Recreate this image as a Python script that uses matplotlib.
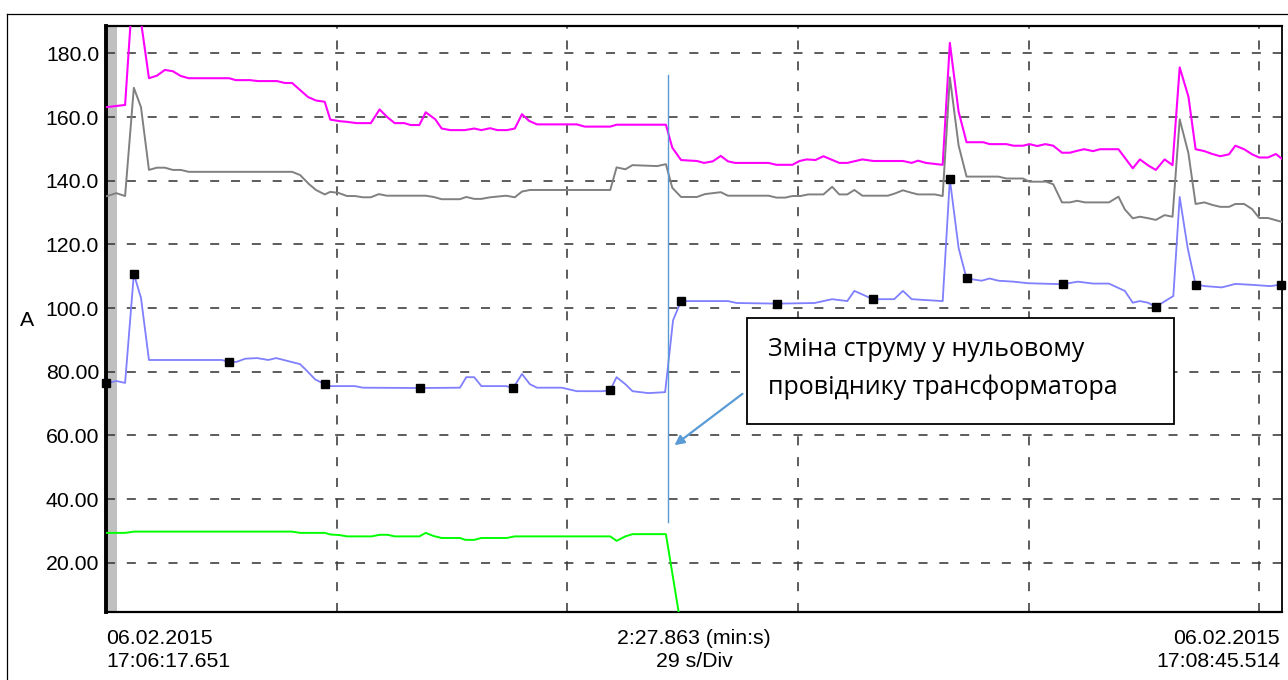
import numpy as np
import matplotlib
matplotlib.use('Agg')
import matplotlib.pyplot as plt
from matplotlib.patches import Rectangle
from matplotlib.lines import Line2D

# time since record start, s / current, A
mag_t = [0.0, 2.4, 3.5, 4.4, 5.4, 6.4, 7.4, 8.4, 9.4, 10.4, 15.5, 16.3, 18.1, 19.1, 21.5,
         22.5, 23.4, 24.4, 25.4, 26.4, 27.5, 28.2, 29.4, 30.3, 31.5, 33.3, 34.4, 35.4, 36.3,
         37.5, 38.3, 39.4, 40.2, 41.4, 42.2, 43.3, 45.1, 46.3, 47.2, 48.3, 49.2, 50.4, 51.4,
         52.3, 53.2, 54.2, 59.2, 60.2, 63.4, 64.2, 70.4, 71.2, 72.3, 74.3, 75.2, 76.3, 77.3,
         78.2, 79.1, 83.3, 84.3, 86.3, 87.2, 88.1, 89.2, 90.2, 92.2, 93.2, 95.1, 96.5, 100.2,
         101.3, 102.1, 103.1, 105.2, 106.1, 107.2, 108.2, 110.3, 111.1, 113.2, 114.1, 115.3,
         116.1, 117.1, 118.1, 119.1, 120.2, 121.2, 122.1, 123.0, 124.1, 125.0, 127.3, 129.1,
         130.0, 131.1, 132.0, 133.1, 134.1, 135.0, 136.1, 137.0, 138.1, 139.1, 140.1, 141.2,
         142.0, 143.1, 144.1, 145.0, 146.1, 147.1, 147.8]
mag_v = [163.1, 163.8, 205.0, 190.0, 172.2, 173.0, 174.8, 174.4, 172.9, 172.2, 172.2, 171.6,
         171.6, 171.3, 171.3, 170.7, 170.7, 168.5, 166.3, 165.2, 164.8, 159.2, 158.7, 158.5,
         158.1, 158.1, 162.4, 159.9, 158.1, 158.1, 157.5, 157.5, 161.5, 159.3, 156.4, 155.9,
         155.9, 156.4, 155.9, 156.5, 155.9, 155.9, 156.4, 160.9, 158.8, 157.7, 157.7, 157.0,
         157.0, 157.6, 157.6, 150.4, 146.5, 146.2, 145.6, 146.1, 147.8, 146.1, 145.6, 145.6,
         145.0, 145.0, 146.2, 146.7, 146.5, 147.7, 145.6, 145.6, 146.7, 146.2, 146.2, 145.6,
         146.3, 145.6, 145.0, 183.3, 161.7, 152.1, 152.1, 151.5, 151.5, 151.0, 151.0, 151.5,
         150.9, 151.5, 151.0, 148.8, 148.8, 149.4, 149.9, 149.3, 149.9, 149.9, 143.9, 146.7,
         144.7, 143.4, 146.7, 144.9, 175.6, 166.4, 149.9, 149.3, 148.4, 147.7, 148.3, 151.0,
         149.9, 148.3, 147.3, 147.3, 148.4, 147.0]

gray_t = [0.0, 1.3, 2.4, 3.5, 4.4, 5.4, 6.4, 7.4, 8.4, 9.4, 10.4, 23.4, 24.4, 25.5, 26.4,
          27.5, 28.2, 29.2, 30.3, 31.3, 32.3, 33.3, 34.3, 35.3, 40.2, 41.2, 42.2, 44.5, 45.3,
          46.3, 47.2, 48.3, 50.3, 51.4, 52.3, 53.3, 63.4, 64.2, 65.3, 66.2, 69.3, 70.4, 71.2,
          72.3, 74.3, 75.3, 77.3, 78.2, 83.3, 84.3, 85.4, 86.3, 87.3, 88.3, 90.2, 91.3, 92.2,
          93.2, 94.1, 95.1, 98.3, 99.2, 100.2, 101.3, 102.1, 104.2, 105.2, 106.1, 107.2, 108.2,
          112.2, 113.2, 115.3, 116.1, 118.2, 119.1, 120.2, 121.2, 122.1, 123.1, 126.1, 127.3,
          128.1, 129.1, 130.0, 131.1, 132.0, 133.1, 134.1, 135.0, 136.1, 137.0, 138.1, 139.1,
          140.1, 141.2, 142.0, 143.1, 144.1, 145.0, 146.1, 147.8]
gray_v = [135.1, 136.1, 135.2, 169.2, 163.1, 143.4, 144.1, 144.1, 143.4, 143.4, 142.8, 142.8,
          141.8, 139.0, 137.1, 135.7, 136.5, 136.2, 135.2, 135.2, 134.8, 134.8, 135.8, 135.3,
          135.3, 134.9, 134.2, 134.2, 134.9, 134.3, 134.3, 134.8, 135.3, 134.8, 136.6, 137.1,
          137.1, 144.2, 143.6, 144.9, 144.6, 145.2, 137.8, 134.9, 134.9, 135.8, 136.4, 135.3,
          135.3, 134.7, 134.7, 135.2, 135.2, 135.7, 135.7, 138.1, 135.7, 135.7, 137.1, 135.3,
          135.3, 136.0, 137.0, 136.2, 135.7, 135.7, 135.2, 172.5, 151.1, 141.3, 141.3, 140.7,
          140.7, 139.7, 139.7, 138.9, 133.2, 133.2, 133.7, 133.2, 133.2, 135.0, 131.0, 128.2,
          128.7, 128.2, 127.7, 129.2, 128.7, 159.3, 148.6, 132.7, 133.2, 132.4, 131.8, 131.8,
          132.7, 132.7, 131.1, 128.3, 128.3, 127.1]

blue_t = [0.0, 1.3, 2.4, 3.5, 4.4, 5.4, 14.6, 15.5, 16.4, 17.5, 19.0, 20.4, 21.4, 24.4, 25.3,
          26.3, 27.5, 28.2, 31.3, 32.3, 39.5, 44.5, 45.3, 46.3, 47.2, 50.3, 51.2, 52.3, 53.3,
          54.2, 57.3, 59.2, 62.5, 63.4, 64.2, 65.3, 66.2, 68.2, 70.3, 71.3, 72.3, 78.2, 79.3,
          84.4, 89.1, 91.3, 93.2, 94.1, 95.0, 96.4, 99.1, 100.2, 101.3, 105.2, 106.1, 107.2,
          108.2, 110.1, 111.1, 112.2, 114.1, 116.0, 120.3, 122.2, 124.1, 126.1, 128.1, 129.1,
          130.0, 131.0, 132.0, 134.2, 135.0, 136.0, 137.0, 138.2, 140.3, 142.0, 144.1, 146.4,
          147.8]
blue_v = [76.4, 77.1, 76.5, 110.7, 103.2, 83.7, 83.7, 83.0, 83.1, 84.1, 84.3, 83.7, 84.3, 82.4,
          80.2, 77.6, 76.1, 75.5, 75.5, 75.0, 74.9, 75.0, 78.3, 78.3, 75.5, 75.5, 74.9, 79.3,
          76.1, 75.0, 75.0, 73.9, 73.9, 74.3, 78.3, 76.1, 73.9, 73.3, 73.6, 96.2, 102.2, 102.2,
          101.6, 101.4, 101.6, 102.8, 102.2, 105.4, 104.4, 102.8, 102.8, 105.4, 102.8, 102.2,
          140.5, 118.9, 109.3, 108.6, 109.3, 108.6, 108.3, 107.8, 107.5, 108.3, 107.7, 107.7,
          105.4, 101.7, 102.2, 101.7, 100.4, 103.8, 134.9, 118.9, 107.4, 106.9, 106.5, 107.6,
          107.3, 106.9, 107.4]
# sample times carrying the black point markers
blue_marks = [0.0, 3.5, 15.5, 27.5, 39.5, 51.2, 63.4, 72.3, 84.4, 96.4, 106.1, 108.2, 120.3,
              132.0, 137.0, 147.8]

green_t = [0.0, 2.4, 3.5, 23.4, 24.4, 27.5, 28.2, 29.4, 30.3, 33.4, 34.4, 35.4, 36.3, 39.4,
           40.2, 41.2, 42.2, 44.5, 45.2, 46.3, 47.2, 50.4, 51.4, 63.4, 64.2, 65.3, 66.2, 70.4,
           72.3]
green_v = [29.4, 29.4, 29.8, 29.8, 29.4, 29.4, 28.9, 28.7, 28.3, 28.3, 28.8, 28.8, 28.3, 28.3,
           29.4, 28.4, 27.8, 27.8, 27.2, 27.2, 27.8, 27.8, 28.3, 28.3, 26.9, 28.3, 29.0, 29.0,
           0.0]

y_ticks = [20, 40, 60, 80, 100, 120, 140, 160, 180]
y_labels = ['20.00', '40.00', '60.00', '80.00', '100.0', '120.0', '140.0', '160.0', '180.0']
span_s = 147.863
div_s = 29
cursor_t = 70.7

plt.rcParams['font.family'] = ['Liberation Sans', 'DejaVu Sans']
plt.rcParams['lines.scale_dashes'] = False

fig = plt.figure(figsize=(12.88, 6.8), dpi=100)
ax = fig.add_axes([106 / 1288, 1 - 612 / 680, 1176 / 1288, 586 / 680])
ax.set_xlim(0, span_s)
ax.set_ylim(4.55, 188.6)

ax.axvspan(0, 1.38, color='#c0c0c0', lw=0, zorder=1)

ax.set_xticks(np.arange(0, span_s, div_s))
ax.set_yticks(y_ticks)
ax.set_yticklabels(y_labels)
ax.tick_params(axis='x', length=0, labelbottom=False)
ax.tick_params(axis='y', length=0, pad=5, labelsize=15.3)
ax.grid(True, color='#383838', lw=1.15, linestyle=(0, (6.5, 8.5)), zorder=0)

ax.plot(mag_t, mag_v, color='#ff00ff', lw=1.5, zorder=3)
ax.plot(gray_t, gray_v, color='#808080', lw=1.4, zorder=3)
ax.plot(green_t, green_v, color='#00ff00', lw=1.4, zorder=3)
mark_idx = [i for i, t in enumerate(blue_t) if t in blue_marks]
ax.plot(blue_t, blue_v, color='#7f7fff', lw=1.3, marker='s', markevery=mark_idx,
        markersize=5.8, markerfacecolor='black', markeredgecolor='black', zorder=4,
        clip_on=False)

# cursor and note
ax.plot([cursor_t, cursor_t], [32.8, 173.2], color='#5b9bd5', lw=1.0, zorder=5)
ax.annotate('', xy=(71.2, 56.4), xytext=(80.3, 73.6),
            arrowprops=dict(arrowstyle='-|>', color='#5b9bd5', lw=1.6, mutation_scale=14),
            zorder=5)
ax.add_patch(Rectangle((0.545, 0.321), 0.363, 0.181, transform=ax.transAxes,
                       facecolor='white', edgecolor='black', lw=1.3, zorder=6))
ax.text(0.563, 0.4155, 'Зміна струму у нульовому\nпровіднику трансформатора',
        transform=ax.transAxes, ha='left', va='center', fontsize=18,
        family=['Open Sans', 'DejaVu Sans'], linespacing=1.6, zorder=7)

for side in ['left', 'right', 'top', 'bottom']:
    ax.spines[side].set_color('black')
ax.spines['left'].set_linewidth(2.8)
ax.spines['bottom'].set_linewidth(1.6)
ax.spines['top'].set_linewidth(1.6)
ax.spines['right'].set_linewidth(1.3)

fig.text(27 / 1288, 1 - 320 / 680, 'A', ha='center', va='center', fontsize=15.3)
fig.text(106 / 1288, 1 - 650 / 680, '06.02.2015\n17:06:17.651', ha='left', va='center',
         fontsize=15.3, linespacing=1.25)
fig.text(694 / 1288, 1 - 650 / 680, '2:27.863 (min:s)\n29 s/Div', ha='center', va='center',
         fontsize=15.3, linespacing=1.25)
fig.text(1280 / 1288, 1 - 650 / 680, '06.02.2015\n17:08:45.514', ha='right', va='center',
         fontsize=15.3, linespacing=1.25)

# outer frame
fig.add_artist(Line2D([7 / 1288, 7 / 1288], [0, 1 - 14 / 680], color='black', lw=0.9))
fig.add_artist(Line2D([7 / 1288, 1], [1 - 14 / 680, 1 - 14 / 680], color='black', lw=0.9))

fig.savefig('out.png', dpi=100)
